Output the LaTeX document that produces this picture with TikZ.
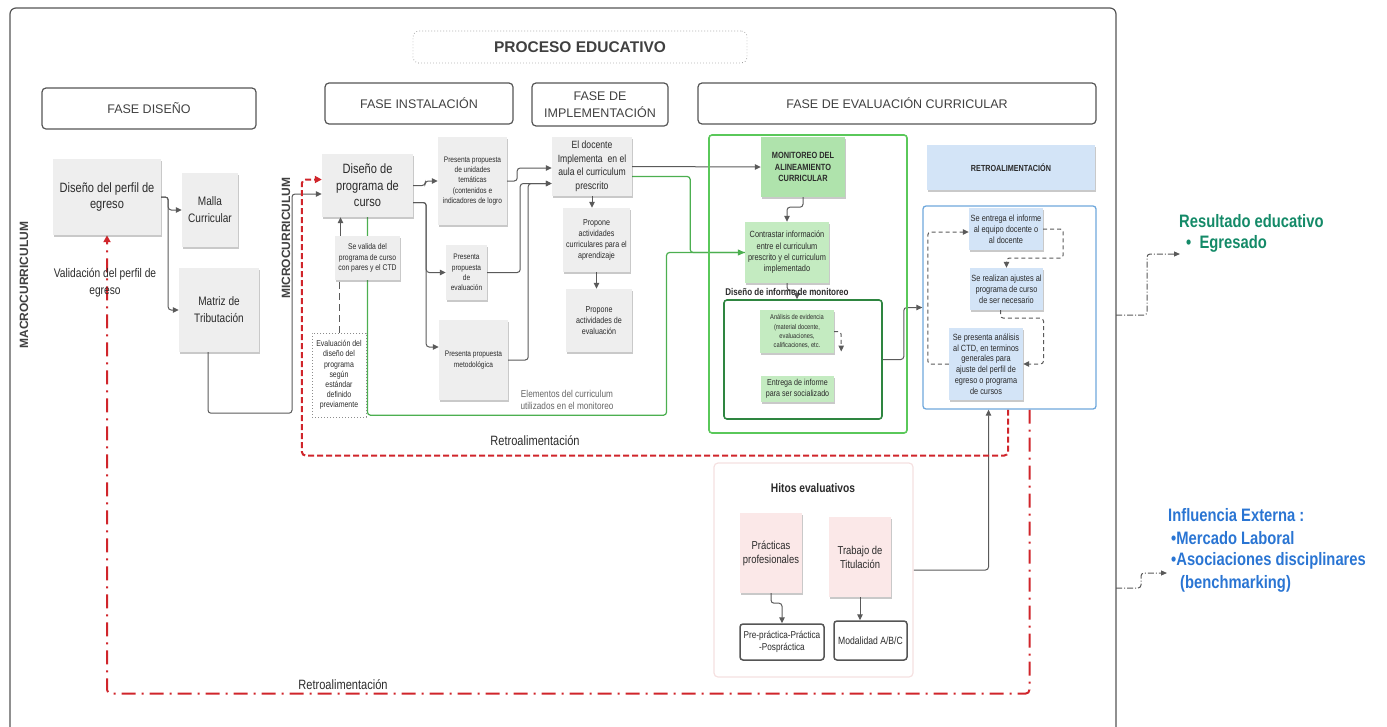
\documentclass[tikz,border=0pt]{standalone}
\usepackage{fontspec}
\setmainfont{Liberation Sans}
\newfontfamily\narrowfont{Liberation Sans}[FakeStretch=0.82]
\usetikzlibrary{arrows.meta,shadows}

\definecolor{framegray}{HTML}{555555}
\definecolor{linegray}{HTML}{5A5A5A}
\definecolor{textdark}{HTML}{2B2B2B}
\definecolor{notegray}{HTML}{EEEEEE}
\definecolor{notegreen}{HTML}{C4EBC1}
\definecolor{monigreen}{HTML}{AFE3AC}
\definecolor{noteblue}{HTML}{D3E4F7}
\definecolor{notepink}{HTML}{FBE8E8}
\definecolor{hitosline}{HTML}{F5E0E0}
\definecolor{greenline}{HTML}{4CAF50}
\definecolor{brightgreen}{HTML}{5AC85A}
\definecolor{darkgreen}{HTML}{2E8540}
\definecolor{blueline}{HTML}{6FA8DC}
\definecolor{fbred}{HTML}{D0252B}
\definecolor{resgreen}{HTML}{148A68}
\definecolor{infblue}{HTML}{2A75D3}

\newcommand{\fsz}[2]{\fontsize{#1}{#2}\selectfont}

\pgfdeclarelayer{back}
\pgfsetlayers{back,main}

\tikzset{
  phasebox/.style={draw=framegray, line width=1.2pt, rounded corners=4pt, align=center,
    text=black!75, font=\fsz{12.5}{17}},
  notebox/.style={fill=notegray, align=center, text=textdark, inner sep=1pt,
    drop shadow={shadow xshift=0.5pt, shadow yshift=-2.2pt, opacity=0.3, fill=black!70}},
  greennote/.style={notebox, fill=notegreen},
  bluenote/.style={notebox, fill=noteblue},
  pinknote/.style={notebox, fill=notepink},
  endbox/.style={draw=framegray, line width=1.5pt, rounded corners=3pt, fill=white,
    align=center, text=textdark},
  dotbox/.style={draw=black!45, line width=0.8pt, dash pattern=on 0.6pt off 2.4pt,
    align=center, text=textdark},
  link/.style={draw=linegray, line width=1pt, rounded corners=3pt,
    -{Triangle[length=6pt,width=5.5pt]}},
  greenlink/.style={draw=greenline, line width=1.2pt, rounded corners=3pt},
  dashlink/.style={link, dash pattern=on 4pt off 3pt},
  reddash/.style={draw=fbred, line width=2pt, rounded corners=4pt, dash pattern=on 6pt off 3pt,
    -{Triangle[length=7pt,width=7pt]}},
  reddashdot/.style={draw=fbred, line width=2pt, rounded corners=4pt,
    dash pattern=on 14pt off 6pt on 2pt off 6pt, -{Triangle[length=7pt,width=7pt]}},
  outlink/.style={draw=black!65, line width=1pt, rounded corners=3pt,
    dash pattern=on 6pt off 2pt on 1pt off 2pt,
    -{Triangle[length=6pt,width=5pt]}},
  restext/.style={text=resgreen, font=\narrowfont\bfseries\fsz{18}{22}, inner sep=0pt},
  inftext/.style={text=infblue, font=\narrowfont\bfseries\fsz{18}{22}, inner sep=0pt},
}

\begin{document}
\begin{tikzpicture}[x=1pt,y=-1pt]
\useasboundingbox (0,0) rectangle (1387,726);

% outer frame
\draw[framegray, line width=1.2pt, rounded corners=6pt] (10,760) -- (10,8) -- (1116,8) -- (1116,760);
\coordinate (resout) at (1116,315);
\coordinate (infout) at (1116,588);

% title and phases
\node[dotbox, rounded corners=6pt, minimum width=334, minimum height=32,
  font=\bfseries\fsz{15.5}{18}, text=black!75] (proceso) at (580,47) {PROCESO EDUCATIVO};
\node[phasebox, minimum width=214, minimum height=41] (fdis) at (149,108.5) {FASE DISEÑO};
\node[phasebox, minimum width=188, minimum height=41] (finst) at (419,103.5) {FASE INSTALACIÓN};
\node[phasebox, minimum width=136, minimum height=43] (fimp) at (600,104.5) {FASE DE\\IMPLEMENTACIÓN};
\node[phasebox, minimum width=398, minimum height=41] (feval) at (897,103.5) {FASE DE EVALUACIÓN CURRICULAR};

% levels
\node[rotate=90, text=black!75, font=\bfseries\fsz{12}{14}] (macro) at (24,285) {MACROCURRICULUM};
\node[rotate=90, text=black!75, font=\bfseries\fsz{12}{14}] (micro) at (286,238) {MICROCURRICULUM};

% fase diseno
\node[notebox, minimum width=108, minimum height=76, font=\narrowfont\fsz{13.5}{16.5}]
  (perfil) at (107,197) {Diseño del perfil de\\egreso};
\node[notebox, minimum width=56, minimum height=74, font=\narrowfont\fsz{12.3}{17}]
  (malla) at (210,210) {Malla\\Curricular};
\node[notebox, minimum width=80, minimum height=84, font=\narrowfont\fsz{12.3}{17}]
  (matriz) at (219,310) {Matriz de\\Tributación};
\node[text=textdark, align=center, font=\narrowfont\fsz{12.5}{17}]
  (valper) at (105,283) {Validación del perfil de\\egreso};

% fase instalacion
\node[notebox, minimum width=91, minimum height=63, font=\narrowfont\fsz{13.5}{16.5}]
  (progcurso) at (367.5,185.5) {Diseño de\\programa de\\curso};
\node[notebox, minimum width=65, minimum height=44, font=\narrowfont\fsz{8.3}{10.3}]
  (valida) at (367.5,258) {Se valida del\\programa de curso\\con pares y el CTD};
\node[dotbox, minimum width=54, minimum height=84, inner sep=1pt, font=\narrowfont\fsz{8.5}{10.2}]
  (evaldis) at (339,375) {Evaluación del\\diseño del\\programa\\según\\estándar\\definido\\previamente};
\node[notebox, minimum width=69, minimum height=88, font=\narrowfont\fsz{8}{10.3}]
  (unidades) at (472.5,181) {Presenta propuesta\\de unidades\\temáticas\\(contenidos e\\indicadores de logro};
\node[notebox, minimum width=41, minimum height=55, font=\narrowfont\fsz{8}{10.3}]
  (propeval) at (466.5,272.5) {Presenta\\propuesta\\de\\evaluación};
\node[notebox, minimum width=69, minimum height=80, font=\narrowfont\fsz{8}{10.3}]
  (metodo) at (473.5,360) {Presenta propuesta\\metodológica};

% fase implementacion
\node[notebox, minimum width=80, minimum height=59, font=\narrowfont\fsz{10.5}{13.5}]
  (docente) at (592,166.5) {El docente\\Implementa\ \ en el\\aula el curriculum\\prescrito};
\node[notebox, minimum width=67, minimum height=64, font=\narrowfont\fsz{8.7}{10.8}]
  (activap) at (596.5,240) {Propone\\actividades\\curriculares para el\\aprendizaje};
\node[notebox, minimum width=66, minimum height=63, font=\narrowfont\fsz{8.7}{10.8}]
  (activev) at (599,320.5) {Propone\\actividades de\\evaluación};
\node[text=black!60, align=center, font=\narrowfont\fsz{10}{12.3}]
  (elementos) at (567,400) {Elementos del curriculum\\utilizados en el monitoreo};

% fase evaluacion: monitoreo
\node[draw=brightgreen, line width=1.6pt, rounded corners=3pt, minimum width=198, minimum height=298]
  (monframe) at (808,284) {};
\node[draw=darkgreen, line width=1.6pt, rounded corners=3pt, minimum width=158, minimum height=119]
  (infbox) at (803,359.5) {};
\node[greennote, fill=monigreen, minimum width=84, minimum height=60, font=\narrowfont\bfseries\fsz{9}{11.3}]
  (monitor) at (803,167) {MONITOREO DEL\\ALINEAMIENTO\\CURRICULAR};
\node[greennote, minimum width=84, minimum height=61, font=\narrowfont\fsz{9}{11.3}]
  (contrast) at (787,252.5) {Contrastar información\\entre el curriculum\\prescrito y el curriculum\\implementado};
\node[greennote, minimum width=74, minimum height=43, font=\narrowfont\fsz{7}{9.2}]
  (analisis) at (797,331.5) {Análisis de evidencia\\(material docente,\\evaluaciones,\\calificaciones, etc.};
\node[greennote, minimum width=73, minimum height=26, font=\narrowfont\fsz{8.7}{10.7}]
  (entrega) at (797.5,389) {Entrega de informe\\para ser socializado};

% fase evaluacion: retroalimentacion
\node[bluenote, minimum width=168, minimum height=45, font=\narrowfont\bfseries\fsz{8.8}{11}]
  (retrohead) at (1011,167.5) {RETROALIMENTACIÓN};
\node[draw=blueline, line width=1.3pt, rounded corners=3pt, minimum width=173, minimum height=203]
  (retrobox) at (1009.5,307.5) {};
\node[bluenote, minimum width=74, minimum height=42, font=\narrowfont\fsz{9}{11}]
  (seentrega) at (1006,229) {Se entrega el informe\\al equipo docente o\\al docente};
\node[bluenote, minimum width=73, minimum height=42, font=\narrowfont\fsz{9}{10.8}]
  (ajustes) at (1006.5,289) {Se realizan ajustes al\\programa de curso\\de ser necesario};
\node[bluenote, minimum width=74, minimum height=72, font=\narrowfont\fsz{9}{10.8}]
  (presenta) at (986,364) {Se presenta análisis\\al CTD, en terminos\\generales para\\ajuste del perfil de\\egreso o programa\\de cursos};

% hitos evaluativos
\node[draw=hitosline, line width=1.2pt, rounded corners=4pt, minimum width=199, minimum height=214]
  (hitos) at (813.5,570) {};
\node[pinknote, minimum width=62, minimum height=80, font=\narrowfont\fsz{11.5}{14}]
  (practicas) at (771,553) {Prácticas\\profesionales};
\node[pinknote, minimum width=62, minimum height=80, font=\narrowfont\fsz{11.5}{14}]
  (trabajo) at (860,557) {Trabajo de\\Titulación};
\node[endbox, minimum width=84, minimum height=36, inner sep=1pt, font=\narrowfont\fsz{10}{12.3}]
  (prepract) at (782,642) {Pre-práctica-Práctica\\-Pospráctica};
\node[endbox, minimum width=73, minimum height=39, inner sep=1pt, font=\narrowfont\fsz{10.5}{12.5}]
  (modalidad) at (870.5,640.5) {Modalidad A/B/C};

% labels
\node[text=textdark, font=\narrowfont\bfseries\fsz{9.8}{12}] (inflabel) at (787,292) {Diseño de informe de monitoreo};
\node[text=textdark, font=\narrowfont\bfseries\fsz{12.5}{15}] (hitlabel) at (813,488) {Hitos evaluativos};
\node[text=textdark, font=\narrowfont\fsz{13.5}{16}] (retrolab) at (535,441) {Retroalimentación};
\node[text=textdark, font=\narrowfont\fsz{13.5}{16}] (retrolabb) at (343,685) {Retroalimentación};

% resultado and influencia
\node[restext, anchor=west] (resul) at (1179,221) {Resultado educativo};
\node[restext, anchor=west] (egres) at (1186,244) {\textbullet\ \ Egresado};
\node[inftext, anchor=west] (influ) at (1168,515) {Influencia Externa :};
\node[inftext, anchor=west] (merc) at (1171,538) {\textbullet Mercado Laboral};
\node[inftext, anchor=west] (asoc) at (1171,561) {\textbullet Asociaciones disciplinares};
\node[inftext, anchor=west] (bench) at (1180,584) {(benchmarking)};

\begin{pgfonlayer}{back}
% diseno
\draw[link] (perfil.east) -- ++(7,0) |- (malla.west);
\draw[link] (perfil.east) -- ++(7,0) |- (matriz.west);
\draw[link] ([xshift=-11pt]matriz.south) -- ++(0,61) -- ++(84,0) |- ([yshift=-8.5pt]progcurso.west);

% instalacion
\draw[link] (progcurso.east) -- ++(12,0) |- (unidades.west);
\draw[link] ([yshift=-17pt]progcurso.east) -- ++(13,0) |- (propeval.west);
\draw[link] ([yshift=-17pt]progcurso.east) -- ++(13,0) |- ([yshift=13pt]metodo.west);
\draw[link] ([xshift=-27pt]valida.north) -- ([xshift=-27pt]progcurso.south);
\draw[draw=linegray, line width=1pt, dash pattern=on 7pt off 4pt] (evaldis.north) -- ([xshift=-28.5pt]valida.south);

% implementacion
\draw[link] (unidades.east) -- ++(10,0) |- ([yshift=-1.5pt]docente.west);
\draw[link] (propeval.east) -- ++(33,0) |- ([yshift=-17pt]docente.west);
\draw[link] (metodo.east) -- ++(20,0) |- ([yshift=-17pt]docente.west);
\draw[link] (docente.south) -- (docente.south |- activap.north);
\draw[link] (activap.south) -- (activap.south |- activev.north);
\draw[link] (docente.east) -- (monitor.west);

% elementos del curriculum
\draw[greenlink] (progcurso.south) -- ++(0,198) -- ++(299,0) |- (contrast.west);
\draw[greenlink, -{Triangle[length=7pt,width=6pt]}] ([yshift=-10pt]docente.east) -- ++(58,0) |- (contrast.west);

% monitoreo
\draw[link] (monitor.south) -- ++(0,10) -| (contrast.north);
\draw[link] (contrast.south) -- ++(0,7) -| ([xshift=-6pt]infbox.north);
\draw[dashlink] (analisis.east) -- ++(7,0) -- ++(0,20);
\draw[link] (infbox.east) -- ++(21,0) |- (retrobox.west);

% ciclo retroalimentacion
\draw[dashlink] (seentrega.east) -- ++(20,0) -- ++(0,29) -| (ajustes.north);
\draw[dashlink] ([xshift=-6pt]ajustes.south) -- ++(0,8) -- ++(43,0) |- (presenta.east);
\draw[dashlink] (presenta.west) -- ++(-21,0) |- ([yshift=-3pt]seentrega.west);

% hitos
\draw[link] (practicas.south) -- ++(0,10) -| (prepract.north);
\draw[link] (trabajo.south) -- (trabajo.south |- modalidad.north);
\draw[link] (hitos.east) -| ([xshift=-21pt]retrobox.south);

% feedback loops
\draw[reddash] ([xshift=-1.5pt]retrobox.south) -- ++(0,46) -| ([xshift=-20pt,yshift=6pt]progcurso.west) -- ([yshift=6pt]progcurso.west);
\draw[reddashdot] ([xshift=20pt]retrobox.south) -- ++(0,284) -| (perfil.south);

% outputs
\draw[outlink, shorten >=6pt] (resout) -- ++(31,0) |- ([yshift=-10pt]egres.west);
\draw[outlink, shorten >=4pt] (infout) -- ++(25,0) |- ([yshift=-12pt]asoc.west);
\end{pgfonlayer}

\end{tikzpicture}
\end{document}
